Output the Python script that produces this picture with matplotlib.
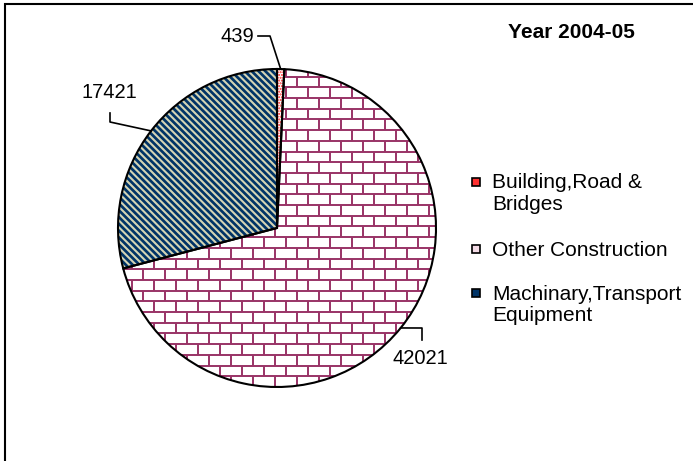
import numpy as np
import matplotlib
matplotlib.use("Agg")
import matplotlib.pyplot as plt
from matplotlib.collections import LineCollection
from matplotlib.patches import Rectangle

plt.rcParams['font.family'] = ['Liberation Sans', 'DejaVu Sans']

# data
categories = ["Building,Road &\nBridges", "Other Construction", "Machinary,Transport\nEquipment"]
values = [439, 42021, 17421]
title = "Year 2004-05"

W, H = 693, 461
fig = plt.figure(figsize=(W / 100, H / 100), dpi=100)
ax = fig.add_axes([0, 0, 1, 1])

# pie geometry in pixel units (y measured from bottom)
cx, cy, r = 277, H - 228, 159

wedges, _ = ax.pie(values, startangle=90, counterclock=False, center=(cx, cy), radius=r,
                   colors=['white', 'white', '#003366'],
                   wedgeprops=dict(linewidth=0))
wedges[0].set_hatch('......')
wedges[0].set_edgecolor('#ff2020')
wedges[0].set_linewidth(0)

# brick texture for "Other Construction"
bw, bh = 22, 10.7
segs = []
ys = np.arange(cy - r - bh, cy + r + bh, bh)
for k, y in enumerate(ys):
    segs.append([(cx - r - 30, y), (cx + r + 30, y)])
    off = (k % 2) * bw / 2
    for x in np.arange(cx - r - 30 + off, cx + r + 30, bw):
        segs.append([(x, y), (x, y + bh)])
bricks = LineCollection(segs, colors='#993366', linewidths=1.4, zorder=2)
ax.add_collection(bricks)
bricks.set_clip_path(wedges[1])

# diagonal stripes for "Machinary,Transport Equipment"
stripes = []
for c in np.arange(-3 * r, 3 * r, 6.8):
    stripes.append([(cx + c - 2 * r, cy + 2 * r), (cx + c + 2 * r, cy - 2 * r)])
lc = LineCollection(stripes, colors='#d4d4b4', linewidths=1.5, zorder=2)
ax.add_collection(lc)
lc.set_clip_path(wedges[2])

# outlines
ax.pie(values, startangle=90, counterclock=False, center=(cx, cy), radius=r,
       wedgeprops=dict(fill=False, edgecolor='black', linewidth=1.5, zorder=3))

# data labels with leader lines
total = sum(values)
cum = np.cumsum([0] + values)
mids = 90 - (cum[:-1] + np.array(values) / 2) / total * 360
label_xy = [(237, 37), (420, 358), (109, 93)]
elbows = [[(258, 36), (270, 36)], [(422, 340), (422, 328)], [(110, 113), (110, 122)]]
for v, a, (tx, ty), el in zip(values, mids, label_xy, elbows):
    px = cx + r * np.cos(np.radians(a))
    py = cy + r * np.sin(np.radians(a))
    xs = [p[0] for p in el] + [px]
    ys_ = [H - p[1] for p in el] + [py]
    ax.plot(xs, ys_, color='black', lw=1.2, zorder=4)
    ax.text(tx, H - ty, str(v), fontsize=14.5, ha='center', va='center')

# title
ax.text(571, H - 33, title, fontsize=15, fontweight='bold', ha='center', va='center')

# legend
leg_y = [182, 249, 293]
leg_face = ['#ff3030', '#f4dbe6', '#003366']
for lab, ly, fc in zip(categories, leg_y, leg_face):
    ax.add_patch(Rectangle((472, H - ly - 4), 8, 8, facecolor=fc, edgecolor='black', lw=1.2))
    ax.text(492, H - ly + 8.5, lab, fontsize=15, ha='left', va='top', linespacing=1.17)

# chart border (only top and left visible)
ax.add_patch(Rectangle((4.5, -10), W + 20, H - 4.5 + 10, fill=False, edgecolor='black', lw=1.5))

ax.set_xlim(0, W)
ax.set_ylim(0, H)
ax.set_aspect('equal')
ax.axis('off')

fig.savefig('out.png', dpi=100)
